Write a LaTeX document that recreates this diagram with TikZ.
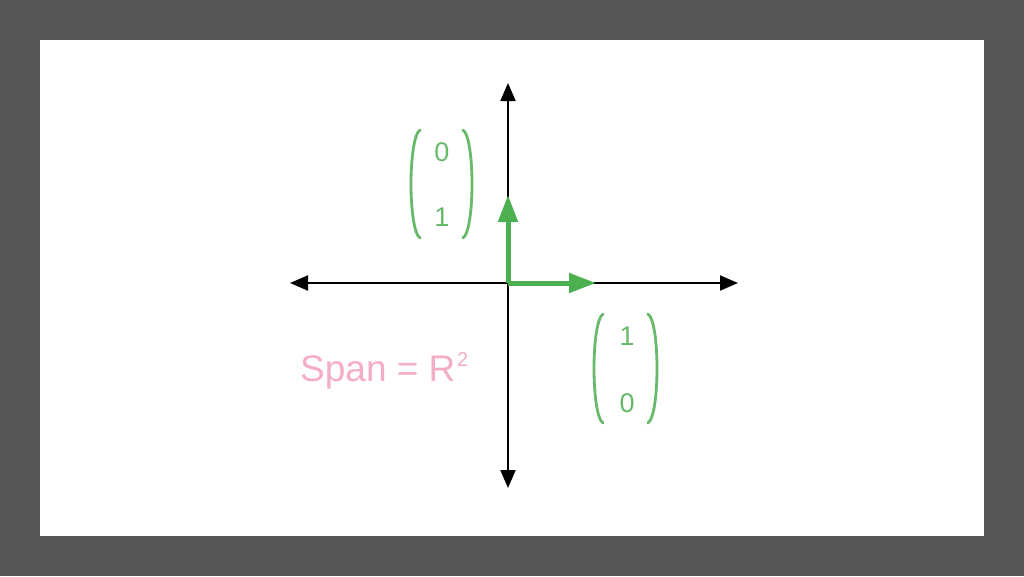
\documentclass[tikz,border=0pt]{standalone}
\usepackage{fontspec}
\setmainfont{Liberation Sans}
\definecolor{Frame}{RGB}{87, 87, 87}
\definecolor{VecGreen}{RGB}{76, 175, 80}
\definecolor{EntryGreen}{RGB}{104, 186, 106}
\definecolor{SpanPink}{RGB}{245, 172, 198}
\usetikzlibrary{arrows.meta, positioning}

\begin{document}
\begin{tikzpicture}[
            x=1pt, y=-1pt,
            axis/.style={{Triangle[length=18pt, width=15pt]}-{Triangle[length=18pt, width=15pt]},
                         line width=2pt, black},
            basis/.style={-{Triangle[length=27pt, width=19pt]}, line width=5pt, VecGreen},
            entry/.style={text=EntryGreen, inner sep=0pt, font=\fontsize{27}{27}\selectfont},
            paren/.style={draw=EntryGreen, line width=2.8pt, line cap=round}
        ]
            % frame
            \fill[Frame] (0,0) rectangle (1024,576);
            \fill[white] (40,40) rectangle (984,536);

            % axes
            \coordinate (origin) at (508,283);
            \coordinate (west) at (290,283);
            \coordinate (east) at (738,283);
            \coordinate (north) at (508,83);
            \coordinate (south) at (508,488);
            \draw[axis] (west) -- (east);
            \draw[axis] (south) -- (north);

            % basis vectors
            \coordinate (ehat1) at (596,283);
            \coordinate (ehat2) at (508,195);
            \draw[basis] (origin) -- (ehat1);
            \draw[basis] (origin) -- (ehat2);

            % column (0,1)
            \node[entry] (upper0) at (442,152) {0};
            \node[entry] (upper1) at (442,217) {1};
            \draw[paren] (420,130) .. controls (408,138) and (408,230) .. (420,238);
            \draw[paren] (463,130) .. controls (475,138) and (475,230) .. (463,238);

            % column (1,0)
            \node[entry] (lower1) at (627,336) {1};
            \node[entry] (lower0) at (627,403) {0};
            \draw[paren] (603,314) .. controls (591,322) and (591,415) .. (603,423);
            \draw[paren] (648,314) .. controls (660,322) and (660,415) .. (648,423);

            % span label
            \node[anchor=base west, inner sep=0pt, text=SpanPink,
                  font=\fontsize{37}{37}\selectfont] (span) at (300,381)
                  {Span = R\kern1.5pt\raisebox{0.4em}{\fontsize{20}{20}\selectfont 2}};
        \end{tikzpicture}
\end{document}
